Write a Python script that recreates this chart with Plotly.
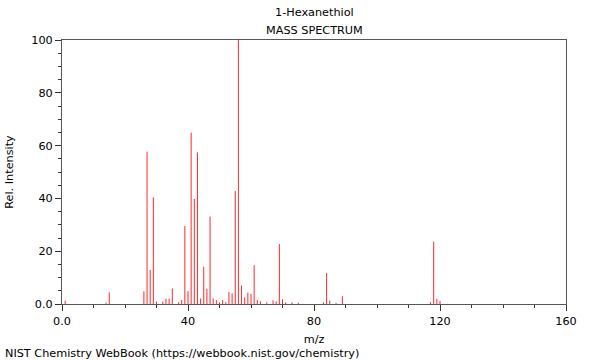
import plotly.graph_objects as go

mz = [1, 14, 15, 26, 27, 28, 29, 30, 32, 33, 34, 35, 37, 38, 39, 40, 41, 42, 43, 44,
      45, 46, 47, 48, 49, 50, 51, 52, 53, 54, 55, 56, 57, 58, 59, 60, 61, 62, 63, 65,
      67, 68, 69, 70, 71, 73, 75, 83, 84, 85, 87, 89, 117, 118, 119, 120]
intensity = [1.2, 0.5, 4.4, 4.8, 57.7, 12.9, 40.4, 0.9, 0.9, 2.0, 2.0, 5.9, 0.6, 1.5, 29.5, 4.9, 64.9, 39.8, 57.4, 2.1,
             14.1, 5.8, 33.1, 2.1, 1.5, 0.6, 1.5, 0.7, 4.5, 4.0, 42.8, 100, 7.0, 2.5, 4.3, 3.8, 14.7, 1.5, 1.0, 0.6,
             1.4, 1.0, 22.7, 1.8, 0.6, 0.6, 0.5, 0.6, 11.7, 1.3, 0.4, 3.0, 0.7, 23.6, 1.9, 1.2]

x_ticks = [0, 40, 80, 120, 160]
x_ticktext = ["0.0", "40", "80", "120", "160"]
y_ticks = [0, 20, 40, 60, 80, 100]
y_ticktext = ["0.0", "20", "40", "60", "80", "100"]

xs, ys = [], []
for m, v in zip(mz, intensity):
    xs += [m, m, None]
    ys += [0, v, None]

fig = go.Figure(go.Scatter(x=xs, y=ys, mode="lines",
                           line=dict(color="rgb(255,40,40)", width=1),
                           hoverinfo="skip", showlegend=False))

W, H = 600, 360
L, R, T, B = 62, 34, 40, 56
font = dict(family="DejaVu Sans", size=11.25, color="#000")
fig.update_layout(
    width=W, height=H,
    margin=dict(l=L, r=R, t=T, b=B, autoexpand=False),
    paper_bgcolor="white", plot_bgcolor="white",
    font=font,
    xaxis=dict(range=[0, 160], tickvals=x_ticks, ticktext=x_ticktext, automargin=False,
               ticks="outside", ticklen=6, tickcolor="#333", showgrid=False, zeroline=False,
               showline=True, linecolor="#555", linewidth=1, mirror=True,
               minor=dict(dtick=10, tick0=0, ticks="outside", ticklen=3, tickcolor="#333"),
               title=dict(text="m/z", font=font, standoff=8)),
    yaxis=dict(range=[0, 100], tickvals=y_ticks, ticktext=y_ticktext, automargin=False,
               ticks="outside", ticklen=6, tickcolor="#333", showgrid=False, zeroline=False,
               showline=True, linecolor="#555", linewidth=1, mirror=True,
               minor=dict(dtick=5, tick0=0, ticks="outside", ticklen=3, tickcolor="#333"),
               title=dict(text="Rel. Intensity", font=font, standoff=15)),
)

pw, ph = W - L - R, H - T - B


def px_x(x):
    return (x - L) / pw


def px_y(y):
    return (H - B - y) / ph


fig.add_annotation(text="1-Hexanethiol", x=0.5, y=px_y(13), xref="paper", yref="paper",
                   showarrow=False, font=font, yanchor="middle")
fig.add_annotation(text="MASS SPECTRUM", x=0.5, y=px_y(30), xref="paper", yref="paper",
                   showarrow=False, font=font, yanchor="middle")
fig.add_annotation(text="Rel. Intensity", x=px_x(10), y=0.5, xref="paper", yref="paper",
                   showarrow=False, font=font, textangle=-90, xanchor="center", yanchor="middle",
                   visible=False)
fig.add_annotation(text="NIST Chemistry WebBook (https://webbook.nist.gov/chemistry)",
                   x=px_x(3), y=px_y(353), xref="paper", yref="paper",
                   showarrow=False, font=font, xanchor="left", yanchor="middle")

fig.write_html("out.html", config={"displayModeBar": False},
               post_script="document.body.style.margin='0';")
